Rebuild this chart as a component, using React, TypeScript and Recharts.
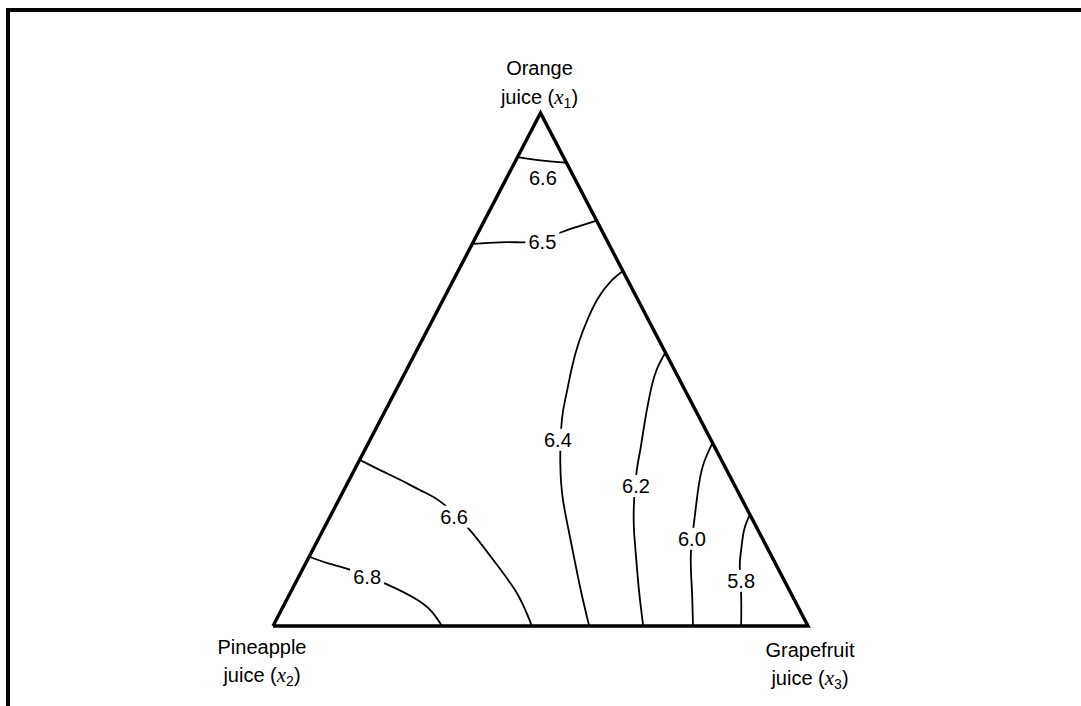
import { ComposedChart, Line, Scatter, XAxis, YAxis } from "recharts";

// Mixture points are stored as [orange x1, grapefruit x3]; pineapple x2 = 1 - x1 - x3.
type Mix = [number, number];

const TRIANGLE: Mix[] = [[0, 0], [0, 1], [1, 0], [0, 0]];

// Response contours (constant-value curves) of the fitted mixture surface
const C66_TOP: Mix[] = [[0.914, 0], [0.907, 0.051], [0.903, 0.097]];
const C65: Mix[] = [[0.745, 0], [0.748, 0.05], [0.748, 0.091], [0.752, 0.127], [0.768, 0.156], [0.78, 0.184], [0.79, 0.21]];
const C64: Mix[] = [
  [0.692, 0.308], [0.671, 0.295], [0.639, 0.288], [0.6, 0.289], [0.554, 0.295], [0.503, 0.307],
  [0.45, 0.323], [0.402, 0.339], [0.318, 0.378], [0.246, 0.419], [0.174, 0.468], [0.076, 0.536], [0, 0.591],
];
const C62: Mix[] = [
  [0.533, 0.467], [0.495, 0.468], [0.444, 0.481], [0.392, 0.498], [0.343, 0.515], [0.304, 0.528],
  [0.246, 0.552], [0.193, 0.578], [0.142, 0.607], [0.07, 0.649], [0, 0.692],
];
const C60: Mix[] = [
  [0.357, 0.643], [0.314, 0.647], [0.265, 0.662], [0.207, 0.684], [0.138, 0.712], [0.07, 0.748], [0, 0.785],
];
const C58: Mix[] = [[0.217, 0.783], [0.187, 0.787], [0.148, 0.801], [0.117, 0.814], [0.06, 0.845], [0, 0.875]];
const C66_LOW: Mix[] = [
  [0.324, 0], [0.302, 0.053], [0.285, 0.095], [0.263, 0.147], [0.24, 0.196], [0.189, 0.272],
  [0.129, 0.347], [0.064, 0.424], [0, 0.484],
];
const C68: Mix[] = [[0.135, 0], [0.121, 0.046], [0.111, 0.085], [0.082, 0.17], [0.051, 0.244], [0.027, 0.284], [0, 0.316]];

const CONTOURS = [C66_TOP, C65, C64, C62, C60, C58, C66_LOW, C68];

// Contour value labels and where they sit
const LABEL_TEXT = ["6.6", "6.5", "6.4", "6.2", "6.0", "5.8", "6.6", "6.8"];
const LABEL_X1 = [0.873, 0.749, 0.363, 0.273, 0.17, 0.088, 0.213, 0.096];
const LABEL_X3 = [0.068, 0.129, 0.351, 0.542, 0.698, 0.831, 0.232, 0.128];

// Components at the corners: orange (top), pineapple (left), grapefruit (right)
const VERTEX_NAME = ["Orange", "Pineapple", "Grapefruit"];
const VERTEX_SUB = ["1", "2", "3"];
const VERTEX_MIX: Mix[] = [[1, 0], [0, 0], [0, 1]];

const toPlane = ([x1, x3]: Mix) => ({ x: x3 + x1 / 2, y: x1 });

const labelData = LABEL_TEXT.map((text, i) => ({ ...toPlane([LABEL_X1[i], LABEL_X3[i]]), text }));
const vertexData = VERTEX_NAME.map((name, i) => ({ ...toPlane(VERTEX_MIX[i]), name, sub: VERTEX_SUB[i], idx: i }));

const SANS = "'Liberation Sans', Arial, Helvetica, sans-serif";
const SERIF = "'Liberation Serif', 'Times New Roman', serif";

// corner label offsets (px) relative to the vertex
const VERTEX_OFFSET = [
  { dx: -1, dy1: -45, dy2: -16 },
  { dx: -11, dy1: 21, dy2: 49 },
  { dx: 2, dy1: 24, dy2: 52 },
];

const ContourLabel = (props: any) => {
  const { cx, cy, payload } = props;
  return (
    <g>
      <rect x={cx - 17} y={cy - 11} width={34} height={22} fill="#fff" />
      <text x={cx} y={cy} textAnchor="middle" dominantBaseline="central" fontFamily={SANS} fontSize={20} fill="#000">
        {payload.text}
      </text>
    </g>
  );
};

const VertexLabel = (props: any) => {
  const { cx, cy, payload } = props;
  const off = VERTEX_OFFSET[payload.idx] ?? VERTEX_OFFSET[0];
  const x = cx + off.dx;
  return (
    <g fontFamily={SANS} fontSize={20} fill="#000">
      <text x={x} y={cy + off.dy1} textAnchor="middle" dominantBaseline="central">
        {payload.name}
      </text>
      <text x={x} y={cy + off.dy2} textAnchor="middle" dominantBaseline="central">
        <tspan>juice (</tspan>
        <tspan fontFamily={SERIF} fontStyle="italic" fontSize={21}>x</tspan>
        <tspan fontSize={14} dy={6}>{payload.sub}</tspan>
        <tspan dy={-6}>)</tspan>
      </text>
    </g>
  );
};

export default function App() {
  return (
    <div style={{ position: "fixed", left: 0, top: 0, width: 1081, height: 706, background: "#fff", overflow: "hidden" }}>
      <div
        style={{
          position: "absolute",
          left: 6,
          top: 8,
          width: 1200,
          height: 800,
          borderTop: "4px solid #000",
          borderLeft: "4px solid #000",
        }}
      />
      <div style={{ position: "absolute", left: 0, top: 0 }}>
        <ComposedChart width={1081} height={706} margin={{ top: 113, right: 273, bottom: 80, left: 273 }}>
          <XAxis type="number" dataKey="x" domain={[0, 1]} hide />
          <YAxis type="number" dataKey="y" domain={[0, 1]} hide />
          {CONTOURS.map((c, i) => (
            <Line
              key={i}
              data={c.map(toPlane)}
              dataKey="y"
              type="natural"
              stroke="#000"
              strokeWidth={1.8}
              dot={false}
              activeDot={false}
              isAnimationActive={false}
            />
          ))}
          <Scatter data={labelData} dataKey="y" shape={ContourLabel} isAnimationActive={false} />
          <Line
            data={TRIANGLE.map(toPlane)}
            dataKey="y"
            type="linear"
            stroke="#000"
            strokeWidth={3.4}
            strokeLinejoin="miter"
            dot={false}
            activeDot={false}
            isAnimationActive={false}
          />
          <Scatter data={vertexData} dataKey="y" shape={VertexLabel} isAnimationActive={false} />
        </ComposedChart>
      </div>
    </div>
  );
}
